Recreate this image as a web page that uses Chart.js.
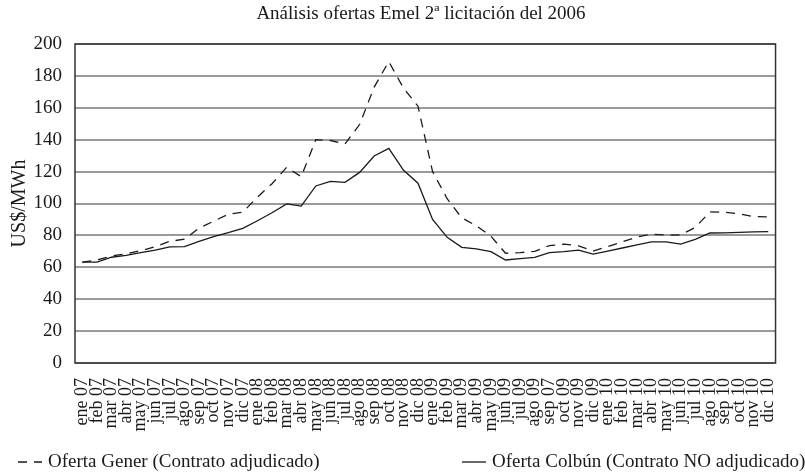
<!DOCTYPE html>
<html>
<head>
<meta charset="utf-8">
<script src="https://cdn.jsdelivr.net/npm/chart.js@4/dist/chart.umd.min.js"></script>
<style>
  html, body { margin: 0; padding: 0; background: #fff; }
</style>
</head>
<body>
<canvas id="chart" width="805" height="474"></canvas>
<script>
// Categories (note: the source labels "sep 09" as "sep 07")
const months = [
  'ene 07', 'feb 07', 'mar 07', 'abr 07', 'may 07', 'jun 07', 'jul 07', 'ago 07', 'sep 07', 'oct 07', 'nov 07', 'dic 07',
  'ene 08', 'feb 08', 'mar 08', 'abr 08', 'may 08', 'jun 08', 'jul 08', 'ago 08', 'sep 08', 'oct 08', 'nov 08', 'dic 08',
  'ene 09', 'feb 09', 'mar 09', 'abr 09', 'may 09', 'jun 09', 'jul 09', 'ago 09', 'sep 07', 'oct 09', 'nov 09', 'dic 09',
  'ene 10', 'feb 10', 'mar 10', 'abr 10', 'may 10', 'jun 10', 'jul 10', 'ago 10', 'sep 10', 'oct 10', 'nov 10', 'dic 10'
];

// Oferta Gener (dashed)
const gener = [
  63.3, 64.6, 67.1, 68.5, 70.4, 72.9, 76.3, 77.6, 84.5, 88.9, 93.3, 94.6,
  104, 112.4, 122.7, 116.8, 140, 139.5, 137.3, 149.5, 173, 189, 172.5, 161,
  120, 103, 91, 86, 79.5, 68.8, 69.2, 70, 73.6, 74.5, 73.5, 70.2,
  73, 76, 79, 80.7, 80.2, 80.3, 85, 94.7, 94.5, 93.5, 91.8, 91.6
];

// Oferta Colbún (solid)
const colbun = [
  63.3, 63.3, 66.3, 67.5, 69.2, 70.8, 72.8, 73, 76.3, 79.2, 81.7, 84.4,
  89.2, 94.2, 99.7, 98.4, 111, 113.9, 113.3, 119.5, 129.8, 134.6, 121, 112.7,
  90, 78.8, 72.5, 71.5, 69.8, 64.6, 65.4, 66.2, 69.2, 69.8, 70.8, 68.3,
  70.2, 72.1, 74, 75.9, 75.9, 74.5, 77.5, 81.5, 81.6, 81.9, 82.2, 82.4
];

const chartTitle = 'Análisis ofertas Emel 2ª licitación del 2006';
const serif = '"Liberation Serif", "Times New Roman", serif';
const ink = '#1a1a1a';

// frame round the plot area
const framePlugin = {
  id: 'frame',
  beforeDatasetsDraw(chart) {
    const a = chart.chartArea;
    const ctx = chart.ctx;
    ctx.save();
    ctx.strokeStyle = '#333';
    ctx.lineWidth = 1.5;
    ctx.strokeRect(a.left, a.top, a.right - a.left, a.bottom - a.top);
    ctx.restore();
  }
};

// title a little left of the plot centre, like the original
const topTitle = {
  id: 'topTitle',
  afterDraw(chart) {
    const ctx = chart.ctx;
    ctx.save();
    ctx.fillStyle = ink;
    ctx.font = '19px ' + serif;
    ctx.textAlign = 'center';
    ctx.textBaseline = 'middle';
    ctx.fillText(chartTitle, 421, 14);
    ctx.restore();
  }
};

// legend along the bottom, one item at each side
const bottomLegend = {
  id: 'bottomLegend',
  afterDraw(chart) {
    const ctx = chart.ctx;
    const y = 462;
    const starts = [18, 462];
    chart.data.datasets.forEach((ds, i) => {
      const x = starts[i];
      ctx.save();
      ctx.strokeStyle = ds.borderColor;
      ctx.lineWidth = ds.borderWidth;
      ctx.setLineDash(ds.borderDash || []);
      ctx.beginPath();
      ctx.moveTo(x, y);
      ctx.lineTo(x + 24, y);
      ctx.stroke();
      ctx.setLineDash([]);
      ctx.fillStyle = ink;
      ctx.font = '19px ' + serif;
      ctx.textBaseline = 'middle';
      ctx.fillText(ds.label, x + 30, y);
      ctx.restore();
    });
  }
};

new Chart(document.getElementById('chart'), {
  type: 'line',
  data: {
    labels: months,
    datasets: [{
      label: 'Oferta Gener (Contrato adjudicado)',
      data: gener,
      borderColor: ink,
      borderWidth: 1.3,
      borderDash: [9, 7],
      pointRadius: 0,
      tension: 0,
      fill: false
    }, {
      label: 'Oferta Colbún (Contrato NO adjudicado)',
      data: colbun,
      borderColor: ink,
      borderWidth: 1.3,
      pointRadius: 0,
      tension: 0,
      fill: false
    }]
  },
  options: {
    responsive: false,
    animation: false,
    layout: { padding: { left: 0, right: 15, top: 44, bottom: 0 } },
    plugins: {
      legend: { display: false },
      tooltip: { enabled: false },
      title: { display: false }
    },
    scales: {
      x: {
        offset: true,
        grid: { display: false, drawTicks: false },
        border: { display: false },
        ticks: {
          autoSkip: false,
          maxRotation: 90,
          minRotation: 90,
          padding: 15,
          color: ink,
          font: { family: serif, size: 18 }
        },
        afterFit: s => { s.height = 111; }
      },
      y: {
        min: 0,
        max: 200,
        ticks: {
          stepSize: 20,
          padding: 13,
          color: ink,
          font: { family: serif, size: 19 }
        },
        grid: { color: '#9a9a9a', lineWidth: 2, drawTicks: false },
        border: { display: false },
        title: {
          display: true,
          text: 'US$/MWh',
          color: ink,
          font: { family: serif, size: 20 },
          padding: { top: 8, bottom: 0 }
        },
        afterFit: s => { s.width = 75; }
      }
    }
  },
  plugins: [framePlugin, topTitle, bottomLegend]
});
</script>
</body>
</html>
